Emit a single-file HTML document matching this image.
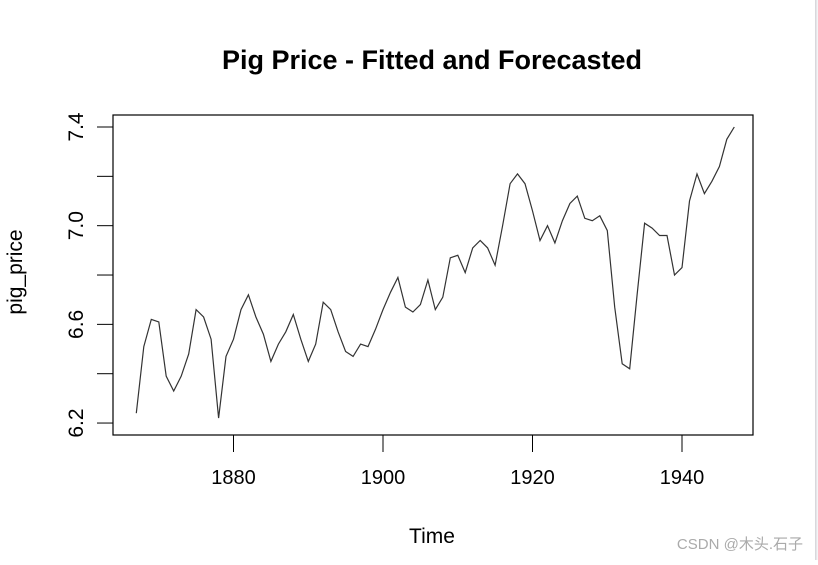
<!DOCTYPE html>
<html><head><meta charset="utf-8"><style>
body{margin:0;background:#fff;width:818px;height:560px;overflow:hidden}
text{font-family:"Liberation Sans",Arial,sans-serif}
</style></head><body>
<svg id="chart" width="818" height="560">
<rect x="815" y="0" width="1.5" height="560" fill="#d8d8dc"/>
<rect x="816.5" y="0" width="1.5" height="560" fill="#f4f4f6"/>
<text x="432" y="69" font-size="27" font-weight="bold" text-anchor="middle">Pig Price - Fitted and Forecasted</text>
<text x="432" y="543" font-size="21" text-anchor="middle">Time</text>
<text transform="translate(22,272) rotate(-90)" font-size="21" text-anchor="middle">pig_price</text>
<rect x="113" y="115" width="640" height="320" fill="none" stroke="#000" stroke-width="1.2"/>
<g id="xaxis"></g>
<g id="yaxis"></g>
<path id="line" fill="none" stroke="#333" stroke-width="1.2"/>
<text x="803" y="549" font-size="15" fill="#aaa" text-anchor="end" font-family="Liberation Sans,'Noto Sans CJK SC',sans-serif">CSDN @木头.石子</text>
</svg>
<script>
const startYear = 1867;
const prices = [6.24,6.51,6.62,6.61,6.39,6.33,6.39,6.48,6.66,6.63,6.54,6.22,6.47,6.54,6.66,6.72,6.63,6.56,6.45,6.52,6.57,6.64,6.54,6.45,6.52,6.69,6.66,6.57,6.49,6.47,6.52,6.51,6.58,6.66,6.73,6.79,6.67,6.65,6.68,6.78,6.66,6.71,6.87,6.88,6.81,6.91,6.94,6.91,6.84,7.00,7.17,7.21,7.17,7.06,6.94,7.00,6.93,7.02,7.09,7.12,7.03,7.02,7.04,6.98,6.67,6.44,6.42,6.72,7.01,6.99,6.96,6.96,6.80,6.83,7.10,7.21,7.13,7.18,7.24,7.35,7.40];
const xTicks = [1880,1900,1920,1940];
const yTicks = [6.2,6.4,6.6,6.8,7.0,7.2,7.4];
const yLabels = [6.2,6.6,7.0,7.4];
const X = yr => 233.5 + (yr-1880)*7.475;
const Y = v => 127 + (7.4 - v)*246.7;
const NS="http://www.w3.org/2000/svg";
function mk(t,a,p){const e=document.createElementNS(NS,t);for(const k in a)e.setAttribute(k,a[k]);p.appendChild(e);return e;}
const xa=document.getElementById('xaxis'), ya=document.getElementById('yaxis');
xTicks.forEach(t=>{
  const l=mk('line',{x1:X(t),x2:X(t),y1:435,y2:452,stroke:'#000'},xa);
  
  
  const tx=mk('text',{x:X(t),y:484,'font-size':20,'text-anchor':'middle'},xa);
  tx.textContent=t;
  
  
});
yTicks.forEach(t=>{
  const l=mk('line',{x1:97,x2:113,y1:Y(t),y2:Y(t),stroke:'#000'},ya);
  
  
});
yLabels.forEach(t=>{
  const tx=mk('text',{transform:`translate(83,${Y(t)}) rotate(-90)`,'font-size':21,'text-anchor':'middle'},ya);
  tx.textContent=t.toFixed(1);
  
  
});
document.getElementById('line').setAttribute('d',prices.map((v,i)=>(i?'L':'M')+X(startYear+i).toFixed(1)+','+Y(v).toFixed(1)).join(''));
</script>
</body></html>
